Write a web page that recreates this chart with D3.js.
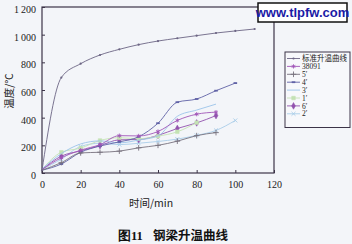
<!DOCTYPE html>
<html>
<head>
<meta charset="utf-8">
<script src="https://cdn.jsdelivr.net/npm/d3@7"></script>
<style>
    body { margin: 0; background: #f3f5f9; }
    #chart { width: 352px; height: 244px; }
</style>
</head>
<body>
<div id="chart"></div>
<script>
// standard fire curve
var stdTime = [0, 10, 20, 30, 40, 50, 60, 70, 80, 90, 100, 110];
var stdTemp = [20, 690, 790, 853, 894, 928, 954, 974, 993, 1012, 1027, 1041];

// test points, every 10 min
var testTime = [0, 10, 20, 30, 40, 50, 60, 70, 80, 90, 100];
var s38091 = [25, 110, 165, 205, 270, 268, 300, 380, 425, 440];
var s5 = [20, 75, 145, 150, 158, 182, 200, 230, 270, 292];
var s4 = [20, 65, 150, 195, 225, 262, 360, 512, 535, 595, 650];
var s3 = [30, 140, 210, 232, 218, 238, 268, 410, 455, 498];
var s1 = [25, 150, 180, 235, 255, 248, 266, 298, 364];
var s6 = [25, 122, 160, 198, 240, 242, 272, 322, 362, 415];
var s2 = [25, 100, 192, 215, 205, 215, 228, 245, 272, 308, 380];

var seriesNames = ["标准升温曲线", "38091", "5\u2032", "4\u2032", "3\u2032", "1\u2032", "6\u2032", "2\u2032"];
var xTicks = [0, 20, 40, 60, 80, 100, 120];
var yTicks = [0, 200, 400, 600, 800, 1000, 1200];

var width = 352, height = 244;

var svg = d3.select("#chart")
    .append("svg")
    .attr("width", width)
    .attr("height", height)
    .style("display", "block");

var xScale = d3.scaleLinear().domain([0, 120]).range([42, 274]);
var yScale = d3.scaleLinear().domain([0, 1200]).range([173, 7]);

var serif = "'Liberation Serif', 'DejaVu Serif', serif";
var cjk = "'Noto Sans CJK SC', sans-serif";

// frame
svg.append("rect")
    .attr("x", xScale(0)).attr("y", yScale(1200))
    .attr("width", xScale(120) - xScale(0)).attr("height", yScale(0) - yScale(1200))
    .style("fill", "none").style("stroke", "#3c3448").style("stroke-width", 1.2);

var xAxis = d3.axisBottom(xScale).tickValues(xTicks).tickSizeInner(-3).tickSizeOuter(0).tickPadding(8);
var yAxis = d3.axisLeft(yScale).tickValues(yTicks).tickSizeInner(-3).tickSizeOuter(0).tickPadding(6)
    .tickFormat(function (d) { return d >= 1000 ? d3.format(",")(d).replace(",", "\u2009") : d; });

var xAxisGroup = svg.append("g")
    .attr("transform", "translate(0," + yScale(0) + ")")
    .call(xAxis);
var yAxisGroup = svg.append("g")
    .attr("transform", "translate(" + xScale(0) + ",0)")
    .call(yAxis);

[xAxisGroup, yAxisGroup].forEach(function (g) {
    g.select(".domain").remove();
    g.selectAll("line").style("stroke", "#3c3448").style("stroke-width", 1);
    g.selectAll("text").style("font-family", serif).style("font-size", "10px").style("fill", "#222");
});
yAxisGroup.selectAll("text").attr("dy", "0.55em");

// axis titles
svg.append("text")
    .attr("transform", "translate(13,91) rotate(-90)")
    .attr("text-anchor", "middle")
    .style("font-family", cjk).style("font-size", "10.5px").style("fill", "#222")
    .text("温度/℃");

svg.append("text")
    .attr("x", 151).attr("y", 207)
    .attr("text-anchor", "middle")
    .style("font-family", cjk).style("font-size", "10.5px").style("fill", "#222")
    .text("时间/min");

var title = svg.append("text")
    .attr("x", 118).attr("y", 240)
    .style("font-size", "12.5px").style("font-weight", "bold").style("fill", "#111");
title.append("tspan").style("font-family", serif).text("图11");
title.append("tspan").attr("x", 153).style("font-family", cjk).text("钢梁升温曲线");

// series styling
var seriesStyle = [
    {color: "#6c6584", symbol: "dot"},
    {color: "#a056b8", symbol: d3.symbolAsterisk},
    {color: "#77727e", symbol: d3.symbolPlus},
    {color: "#6062a6", symbol: "dash"},
    {color: "#9cc4ea", symbol: null},
    {color: "#c4e2b4", symbol: d3.symbolSquare},
    {color: "#9252ae", symbol: d3.symbolDiamond},
    {color: "#a9cde9", symbol: d3.symbolTimes}
];

var seriesData = [
    stdTemp.map(function (v, i) { return [stdTime[i], v]; })
];
[s38091, s5, s4, s3, s1, s6, s2].forEach(function (arr) {
    seriesData.push(arr.map(function (v, i) { return [testTime[i], v]; }));
});

var line = d3.line()
    .x(function (d) { return xScale(d[0]); })
    .y(function (d) { return yScale(d[1]); })
    .curve(d3.curveMonotoneX);

function drawMarker(g, style, x, y) {
    if (style.symbol === null) return;
    if (style.symbol === "dot") {
        g.append("circle").attr("cx", x).attr("cy", y).attr("r", 1.1).style("fill", style.color);
    } else if (style.symbol === "dash") {
        g.append("line").attr("x1", x - 1.8).attr("x2", x + 1.8).attr("y1", y).attr("y2", y)
            .style("stroke", style.color).style("stroke-width", 1.8);
    } else {
        var filled = style.symbol === d3.symbolSquare || style.symbol === d3.symbolDiamond;
        g.append("path")
            .attr("d", d3.symbol().type(style.symbol).size(filled ? 13 : 12)())
            .attr("transform", "translate(" + x + "," + y + ")")
            .style("fill", filled ? style.color : "none")
            .style("stroke", style.color)
            .style("stroke-width", filled ? 0.5 : 0.9);
    }
}

// draw lower series first so the standard curve ends on top
var plotG = svg.append("g");
for (var idx = seriesData.length - 1; idx >= 0; idx--) {
    var st = seriesStyle[idx];
    var g = plotG.append("g");
    g.append("path")
        .datum(seriesData[idx])
        .attr("d", line)
        .style("fill", "none")
        .style("stroke", st.color)
        .style("stroke-width", 0.9);
    seriesData[idx].forEach(function (d, i) {
        if (i === 0 && idx > 0) return;
        drawMarker(g, st, xScale(d[0]), yScale(d[1]));
    });
}

// legend
var legend = svg.append("g");
legend.append("rect")
    .attr("x", 285).attr("y", 52).attr("width", 65).attr("height", 75.5)
    .style("fill", "#f7f8fb").style("stroke", "#3c3448").style("stroke-width", 1);

seriesNames.forEach(function (name, i) {
    var yy = 58.5 + i * 7.9;
    var st = seriesStyle[i];
    legend.append("line")
        .attr("x1", 287).attr("x2", 300).attr("y1", yy).attr("y2", yy)
        .style("stroke", st.color).style("stroke-width", 0.9);
    drawMarker(legend, st, 293.5, yy);
    legend.append("text")
        .attr("x", 302).attr("y", yy + 2.6)
        .style("font-family", i === 0 ? cjk : serif)
        .style("font-size", "7.5px").style("fill", "#222")
        .text(name);
});

// watermark box
svg.append("rect")
    .attr("x", 258).attr("y", 3).attr("width", 89).attr("height", 19)
    .style("fill", "#ffffff").style("stroke", "#111").style("stroke-width", 1.5);
svg.append("text")
    .attr("x", 302.5).attr("y", 17)
    .attr("text-anchor", "middle")
    .style("font-family", "'Liberation Sans', Arial, sans-serif")
    .style("font-size", "13px").style("font-weight", "bold").style("fill", "#1a1aa6")
    .text("www.tlpfw.com");
</script>
</body>
</html>
